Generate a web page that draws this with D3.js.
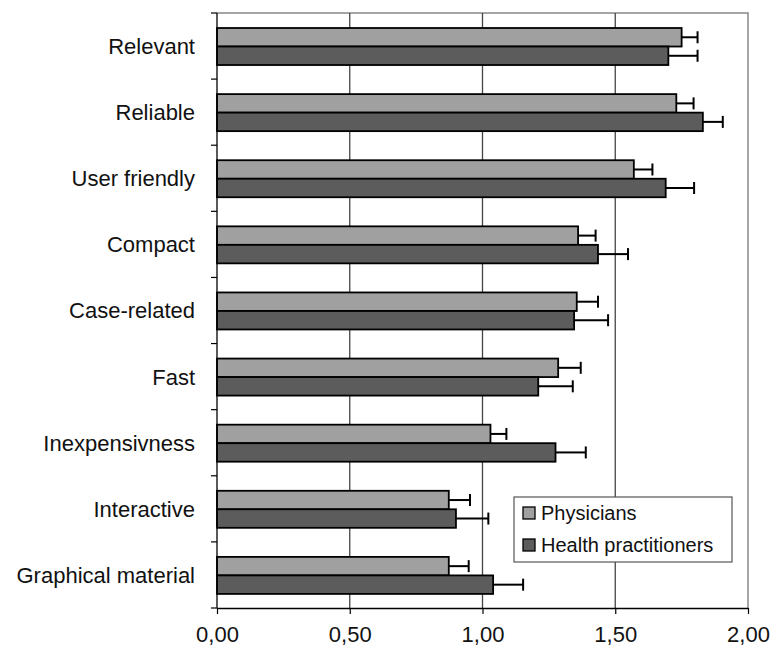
<!DOCTYPE html>
<html><head><meta charset="utf-8">
<script src="https://cdn.jsdelivr.net/npm/d3@7"></script>
<style>body{margin:0;background:#fff}svg{display:block}text{font-family:"Liberation Sans",Arial,sans-serif}</style>
</head><body><svg id="c" width="773" height="654"></svg>
<script>
const categories = ["Relevant","Reliable","User friendly","Compact","Case-related","Fast","Inexpensivness","Interactive","Graphical material"];
const seriesNames = ["Physicians","Health practitioners"];
const physicians = [1.75,1.73,1.57,1.36,1.355,1.285,1.03,0.873,0.873];
const physiciansErr = [0.06,0.065,0.07,0.066,0.08,0.085,0.06,0.08,0.075];
const practitioners = [1.70,1.83,1.69,1.435,1.345,1.21,1.275,0.90,1.04];
const practitionersErr = [0.11,0.075,0.107,0.113,0.128,0.13,0.114,0.122,0.113];
const xTicks = [0,0.5,1,1.5,2];
const colors = ["#a0a0a0","#5c5c5c"];

const svg = d3.select("#c");
const L=217, R=748, T=13, B=608;
const x = d3.scaleLinear().domain([0,2]).range([L,R]);
const y = d3.scaleBand().domain(categories).range([T,B]);
const inner = d3.scaleBand().domain(seriesNames).range([y.bandwidth()*0.227, y.bandwidth()*0.787]);

// plot border (top/right)
svg.append("path").attr("d",`M${L},${T}H${R}V${B}`).attr("fill","none").attr("stroke","#888").attr("stroke-width",1.5);
// gridlines
svg.append("g").selectAll("line").data(xTicks.slice(1,-1)).join("line")
  .attr("x1",d=>x(d)).attr("x2",d=>x(d)).attr("y1",T).attr("y2",B)
  .attr("stroke","#444").attr("stroke-width",1.3);

const data = categories.map((c,i)=>[
  {c, s:seriesNames[0], v:physicians[i], e:physiciansErr[i], col:colors[0]},
  {c, s:seriesNames[1], v:practitioners[i], e:practitionersErr[i], col:colors[1]}
]).flat();

// error bars
const eg = svg.append("g").attr("stroke","#000").attr("stroke-width",2);
data.forEach(d=>{
  const cy = y(d.c)+inner(d.s)+inner.bandwidth()/2;
  eg.append("line").attr("x1",x(d.v)).attr("x2",x(d.v+d.e)).attr("y1",cy).attr("y2",cy);
  eg.append("line").attr("x1",x(d.v+d.e)).attr("x2",x(d.v+d.e)).attr("y1",cy-6).attr("y2",cy+6);
});

// bars
svg.append("g").selectAll("rect").data(data).join("rect")
  .attr("x",x(0)).attr("y",d=>y(d.c)+inner(d.s))
  .attr("width",d=>x(d.v)-x(0)).attr("height",inner.bandwidth())
  .attr("fill",d=>d.col).attr("stroke","#000").attr("stroke-width",1.8);

// left axis
const ya = svg.append("g").attr("transform",`translate(${L},0)`);
ya.append("line").attr("x1",0).attr("x2",0).attr("y1",T).attr("y2",B).attr("stroke","#000").attr("stroke-width",1.3);
ya.selectAll("line.t").data(categories.map(c=>y(c)).concat([B])).join("line").attr("class","t")
  .attr("x1",-6).attr("x2",0).attr("y1",d=>d).attr("y2",d=>d).attr("stroke","#000").attr("stroke-width",1.2);
ya.selectAll("text").data(categories).join("text")
  .attr("x",-22).attr("y",d=>y(d)+y.bandwidth()/2).attr("dy","0.36em")
  .attr("text-anchor","end").attr("font-size",22).attr("fill","#111").text(d=>d);

// bottom axis
const xa = svg.append("g").attr("transform",`translate(0,${B})`)
  .call(d3.axisBottom(x).tickValues(xTicks).tickSize(6).tickSizeOuter(0).tickFormat(d=>d3.format(".2f")(d).replace(".",",")));
xa.select(".domain").attr("stroke","#000").attr("stroke-width",1.3);
xa.selectAll(".tick line").attr("stroke","#000").attr("stroke-width",1.2);
xa.selectAll("text").attr("font-size",22).attr("fill","#111").attr("y",26).attr("dy","0.36em")
  .style("font-family","Liberation Sans, Arial, sans-serif");

// legend
const lg = svg.append("g").attr("transform","translate(514,497)");
lg.append("rect").attr("width",218).attr("height",65).attr("fill","#fff").attr("stroke","#555").attr("stroke-width",1.2);
seriesNames.forEach((s,i)=>{
  const yy = 16 + i*32;
  lg.append("rect").attr("x",9).attr("y",yy-6).attr("width",12).attr("height",12).attr("fill",colors[i]).attr("stroke","#000").attr("stroke-width",1.3);
  lg.append("text").attr("x",27).attr("y",yy).attr("dy","0.36em").attr("font-size",20).attr("fill","#111").text(s);
});
</script></body></html>
